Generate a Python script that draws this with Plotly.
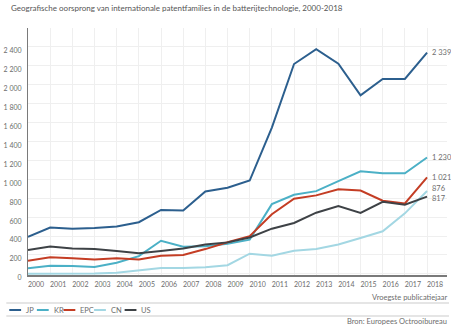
import plotly.graph_objects as go

years = list(range(2000, 2019))
JP = [391, 490, 476, 484, 502, 546, 676, 670, 872, 910, 987, 1547, 2219, 2377, 2223, 1887, 2062, 2062, 2339]
KR = [59, 87, 83, 73, 118, 188, 350, 286, 293, 318, 362, 737, 837, 875, 980, 1085, 1064, 1064, 1230]
EPC = [139, 175, 164, 153, 164, 153, 192, 199, 262, 335, 399, 630, 795, 830, 895, 881, 773, 745, 1021]
CN = [2, 2, 2, 4, 12, 41, 62, 62, 70, 91, 213, 192, 245, 262, 311, 380, 450, 640, 876]
US = [252, 290, 269, 262, 241, 217, 241, 269, 311, 333, 384, 478, 538, 647, 717, 644, 762, 732, 817]

names = ["JP", "KR", "EPC", "CN", "US"]
series = [JP, KR, EPC, CN, US]
colors = ["#2c5f8e", "#4bb0c6", "#c43d24", "#a3d7e3", "#3e4246"]
end_labels = ["2 339", "1 230", "1 021", "876", "817"]

ytick_vals = list(range(0, 2600, 200))
ytick_text = ["0", "200", "400", "600", "800", "1 000", "1 200", "1 400", "1 600", "1 800", "2 000", "2 200", "2 400"]

title = "Geografische oorsprong van internationale patentfamilies in de batterijtechnologie, 2000-2018"
xlabel = "Vroegste publicatiejaar"
source = "Bron: Europees Octrooibureau"

W, H = 451, 329
L, R, T, B = 22, 4, 28, 54
PW, PH = W - L - R, H - T - B

def px(x):
    return (x - L) / PW

def py(y):
    return (H - B - y) / PH

FONT = "Lato, Open Sans, sans-serif"
GRAY = "#6d6d6d"

# vertical nudges of end labels (pixels) to keep them apart
label_nudge = {"CN": 3, "US": -2}

fig = go.Figure()
for n, s, c in zip(names, series, colors):
    fig.add_trace(go.Scatter(x=years, y=s, mode="lines", name=n,
                             line=dict(color=c, width=2), showlegend=False))

annotations = []
for n, s, t in zip(names, series, end_labels):
    annotations.append(dict(x=years[-1], y=s[-1], xref="x", yref="y", text=t,
                            showarrow=False, xanchor="left", yanchor="middle",
                            xshift=3, yshift=label_nudge.get(n, 0),
                            font=dict(size=7.5, color=GRAY, family=FONT)))

annotations.append(dict(x=px(3), y=py(8), xref="paper", yref="paper", text=title,
                        showarrow=False, xanchor="left", yanchor="middle",
                        font=dict(size=8, color="#555555", family=FONT)))
annotations.append(dict(x=px(449), y=py(297), xref="paper", yref="paper", text=xlabel,
                        showarrow=False, xanchor="right", yanchor="middle",
                        font=dict(size=7.5, color=GRAY, family=FONT)))
annotations.append(dict(x=px(449), y=py(321), xref="paper", yref="paper", text=source,
                        showarrow=False, xanchor="right", yanchor="middle",
                        font=dict(size=7.5, color=GRAY, family=FONT)))

shapes = []
for yy in (303, 316):
    shapes.append(dict(type="line", xref="paper", yref="paper", x0=px(0), x1=px(449),
                       y0=py(yy), y1=py(yy), line=dict(color="#dcdcdc", width=1.5)))

leg_x = [3, 31, 58, 89, 120]
leg_y = 310
for n, c, lx in zip(names, colors, leg_x):
    shapes.append(dict(type="line", xref="paper", yref="paper", x0=px(lx), x1=px(lx + 12),
                       y0=py(leg_y), y1=py(leg_y), line=dict(color=c, width=2)))
    annotations.append(dict(x=px(lx + 15), y=py(leg_y), xref="paper", yref="paper", text=n,
                            showarrow=False, xanchor="left", yanchor="middle",
                            font=dict(size=7.5, color=GRAY, family=FONT)))

fig.update_layout(
    width=W, height=H,
    margin=dict(l=L, r=R, t=T, b=B),
    paper_bgcolor="white", plot_bgcolor="white",
    showlegend=False,
    annotations=annotations,
    shapes=shapes,
    xaxis=dict(range=[2000, 2018.9], tickvals=years, ticktext=[str(y) for y in years],
               showgrid=True, gridcolor="#efefef", gridwidth=1,
               showline=True, linecolor="#7a7a7a", linewidth=1.5,
               ticks="", zeroline=False, ticklabelshift=8, ticklabelstandoff=2,
               tickfont=dict(size=7, color=GRAY, family=FONT), fixedrange=True),
    yaxis=dict(range=[-12, 2600], tickvals=ytick_vals, ticktext=ytick_text,
               showgrid=True, gridcolor="#efefef", gridwidth=1,
               showline=True, linecolor="#7a7a7a", linewidth=1,
               ticks="", zeroline=False, ticklabelshift=4, ticklabelstandoff=4,
               tickfont=dict(size=7, color=GRAY, family=FONT), fixedrange=True),
)

fig.write_html("out.html")
